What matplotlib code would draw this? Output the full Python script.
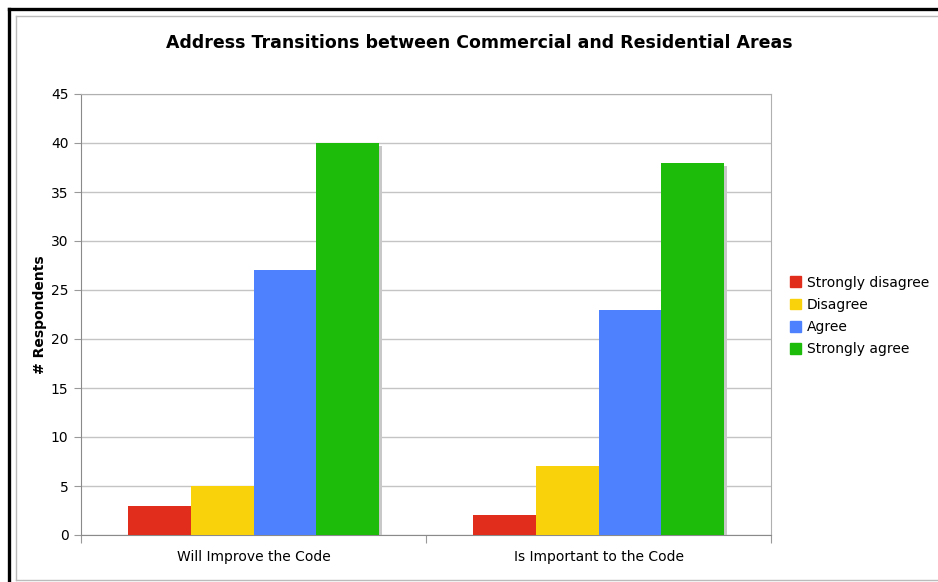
import numpy as np
import matplotlib
matplotlib.use("Agg")
import matplotlib.pyplot as plt
import matplotlib.transforms as mtransforms
from matplotlib.lines import Line2D
from matplotlib.patches import Patch

categories = ["Will Improve the Code", "Is Important to the Code"]
series_names = ["Strongly disagree", "Disagree", "Agree", "Strongly agree"]
strongly_disagree = [3, 2]
disagree = [5, 7]
agree = [27, 23]
strongly_agree = [40, 38]
colors = ["#E12E1C", "#FAD20B", "#4E81FD", "#1EBC0A"]

W, H = 938, 582
fig = plt.figure(figsize=(W / 100, H / 100), dpi=100)
plt.rcParams["font.family"] = ["DejaVu Sans"]

# screenshot border (black outer, light gray inner)
def fx(px):
    return px / W

def fy(py):
    return 1 - py / H

fig.add_artist(Line2D([fx(9), fx(9)], [0, fy(9)], color="black", lw=2.4))
fig.add_artist(Line2D([fx(9), 1], [fy(9), fy(9)], color="black", lw=2.4))
fig.add_artist(Line2D([fx(15.5), fx(15.5)], [fy(580), fy(15.5)], color="#bbbbbb", lw=1))
fig.add_artist(Line2D([fx(15.5), 1], [fy(15.5), fy(15.5)], color="#bbbbbb", lw=1))
fig.add_artist(Line2D([fx(15.5), 1], [fy(580), fy(580)], color="#bbbbbb", lw=1))

ax = fig.add_axes([81 / W, 1 - 535 / H, 690 / W, 441 / H])

data = [strongly_disagree, disagree, agree, strongly_agree]
x = np.arange(len(categories))
w = 0.1826
shadow = ax.transData + mtransforms.ScaledTranslation(3 / 100, -3 / 100, fig.dpi_scale_trans)
for i, vals in enumerate(data):
    pos = x + (i - 1.5) * w
    ax.bar(pos, vals, w, color="#c8c8c8", transform=shadow, zorder=2, linewidth=0)
for i, vals in enumerate(data):
    pos = x + (i - 1.5) * w
    ax.bar(pos, vals, w, color=colors[i], label=series_names[i], zorder=3, linewidth=0)

ax.set_xlim(-0.5, 1.5)
ax.set_ylim(0, 45)
ax.set_yticks(range(0, 46, 5))
ax.yaxis.grid(True, color="#c4c4c4", lw=1)
ax.set_axisbelow(True)

ax.set_xticks([-0.5, 0.5, 1.5])
ax.set_xticklabels([])
ax.set_xticks(x, minor=True)
ax.set_xticklabels(categories, minor=True, fontsize=10)
ax.tick_params(axis="x", which="minor", length=0, pad=11)
ax.tick_params(axis="x", which="major", length=6, color="#999999")
ax.tick_params(axis="y", length=5, color="#999999", labelsize=10, pad=4)

for side in ["left", "bottom"]:
    ax.spines[side].set_color("#8a8a8a")
for side in ["top", "right"]:
    ax.spines[side].set_color("#b0b0b0")

ax.set_ylabel("# Respondents", fontsize=10, fontweight="bold", labelpad=3)
fig.text(479 / W, 1 - 43 / H, "Address Transitions between Commercial and Residential Areas",
         ha="center", va="center", fontsize=12.5, fontweight="bold")

handles = [Patch(color=c) for c in colors]
fig.legend(handles, series_names, loc="center left", bbox_to_anchor=(783 / W, 1 - 316 / H),
           frameon=False, fontsize=10, handlelength=0.8, handleheight=0.8,
           handletextpad=0.4, labelspacing=0.6, borderpad=0)

fig.savefig("out.png", dpi=100)
